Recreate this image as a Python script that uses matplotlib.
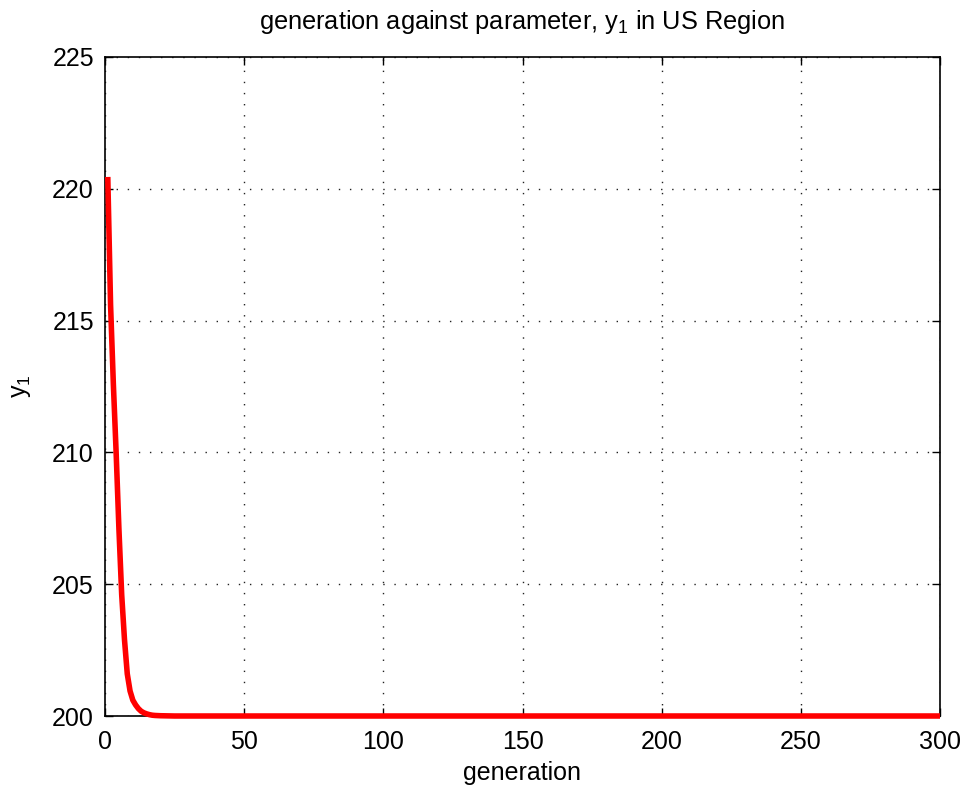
import matplotlib
matplotlib.use("Agg")
import matplotlib.pyplot as plt

# ── data ──────────────────────────────────────────────────────────────────────
generation = [1, 2, 3, 4, 5, 6, 7, 8, 9, 10, 11, 12, 13, 14, 15, 16, 17, 18,
              20, 25, 300]
y1 = [220.45, 215.6, 212.6, 210.0, 207.1, 204.6, 202.9, 201.6, 200.95, 200.6,
      200.42, 200.28, 200.18, 200.12, 200.08, 200.05, 200.03, 200.02,
      200.01, 200.0, 200.0]

x_ticks = [0, 50, 100, 150, 200, 250, 300]
y_ticks = [200, 205, 210, 215, 220, 225]

# ── style ─────────────────────────────────────────────────────────────────────
plt.rcParams["font.family"] = ["Liberation Sans", "DejaVu Sans"]
plt.rcParams["mathtext.fontset"] = "custom"
plt.rcParams["mathtext.rm"] = "Liberation Sans"
plt.rcParams["mathtext.it"] = "Liberation Sans"

fig = plt.figure(figsize=(9.67, 7.89), dpi=100)
ax = fig.add_axes([105 / 967, 1 - 716 / 789, 835 / 967, 659 / 789])

ax.plot(generation, y1, color="#ff0000", linewidth=4.0,
        solid_capstyle="butt", clip_on=False, zorder=3)

ax.set_xlim(0, 300)
ax.set_ylim(200, 225)
ax.set_xticks(x_ticks)
ax.set_yticks(y_ticks)

ax.grid(True, color="#222222", linestyle=(0, (1, 7)), linewidth=1.0)
ax.set_axisbelow(True)
ax.tick_params(direction="in", length=6, width=1, top=True, right=True,
               labelsize=18)
ax.tick_params(axis="x", pad=10)
ax.tick_params(axis="y", pad=8)
for sp in ax.spines.values():
    sp.set_linewidth(1.2)

ax.set_xlabel("generation", fontsize=18, labelpad=5)
ax.set_ylabel(r"$\mathregular{y_1}$", fontsize=18, labelpad=14)
ax.set_title(r"generation against parameter, $\mathregular{y_1}$ in US Region",
             fontsize=18.3, pad=20)

fig.savefig("out.png", dpi=100)
